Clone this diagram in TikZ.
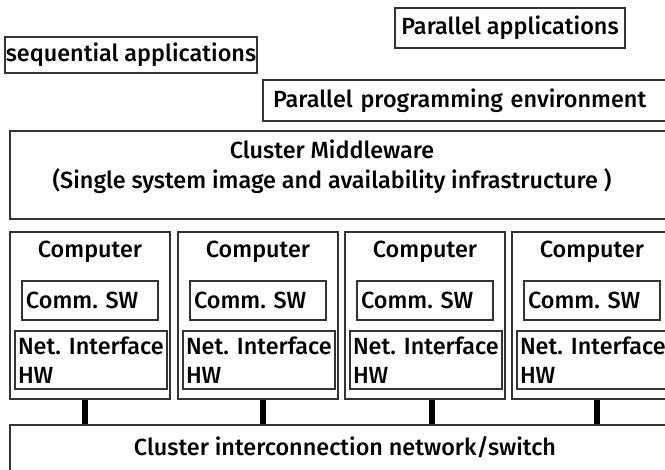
\documentclass[tikz,border=0pt]{standalone}
\usepackage{fontspec}
\setmainfont{Fira Sans Medium}
\frenchspacing
\usetikzlibrary{positioning, calc}

\tikzset{
    layer/.style = {draw = black!80, line width = 1.2pt, rectangle,
        inner sep = 0pt, font = \fontsize{23.4}{29}\selectfont},
    caption/.style = {inner sep = 0pt, font = \fontsize{23.4}{30}\selectfont},
    bus/.style = {line width = 6pt, black}
}

\begin{document}
\begin{tikzpicture}[x = 1pt, y = -1pt]
        \useasboundingbox (0,0) rectangle (665,470);
        \clip (0,0) rectangle (665,470);
        % application level
        \node [layer, minimum width = 230, minimum height = 40] (parapp)
        at (510,28) {Parallel applications};
        \node [layer, minimum width = 252, minimum height = 36] (seqapp)
        at (131,55) {sequential applications};
        \node [layer, minimum width = 410, minimum height = 41, text width =
        390, align = left] (ppe) at (468,100.5) {Parallel programming
        environment};
        % middleware
        \node [layer, minimum width = 670, minimum height = 88] (mid) at
        (345,175) {};
        \node [caption, align = center] (midlabel) at (332,167) {Cluster
        Middleware\\(Single system image and availability infrastructure )};
        % interconnect
        \node [layer, minimum width = 670, minimum height = 70] (net) at
        (345,460) {};
        \node [caption] (netlabel) at (345,447)
        {Cluster interconnection network/switch};
        % computers
        \foreach \i/\x/\cx in {1/10/85, 2/178/263, 3/345/432, 4/512/597} {
            \node [layer, minimum width = 160, minimum height = 167] (comp\i)
            at (\x+80,315.5) {};
            \node [caption] (title\i) at (\x+80,252) {Computer};
            \node [layer, minimum width = 136, minimum height = 39,
            text width = 128, align = left] (sw\i) at (\x+80,300.5)
            {Comm. SW};
            \node [layer, minimum width = 152, minimum height = 58,
            text width = 146, align = left] (nic\i) at (\x+81,360)
            {Net. Interface\\HW};
            \coordinate (c\i) at (\cx,0);
            \draw [bus] (comp\i.south -| c\i) -- (net.north -| c\i);
        }
\end{tikzpicture}
\end{document}
